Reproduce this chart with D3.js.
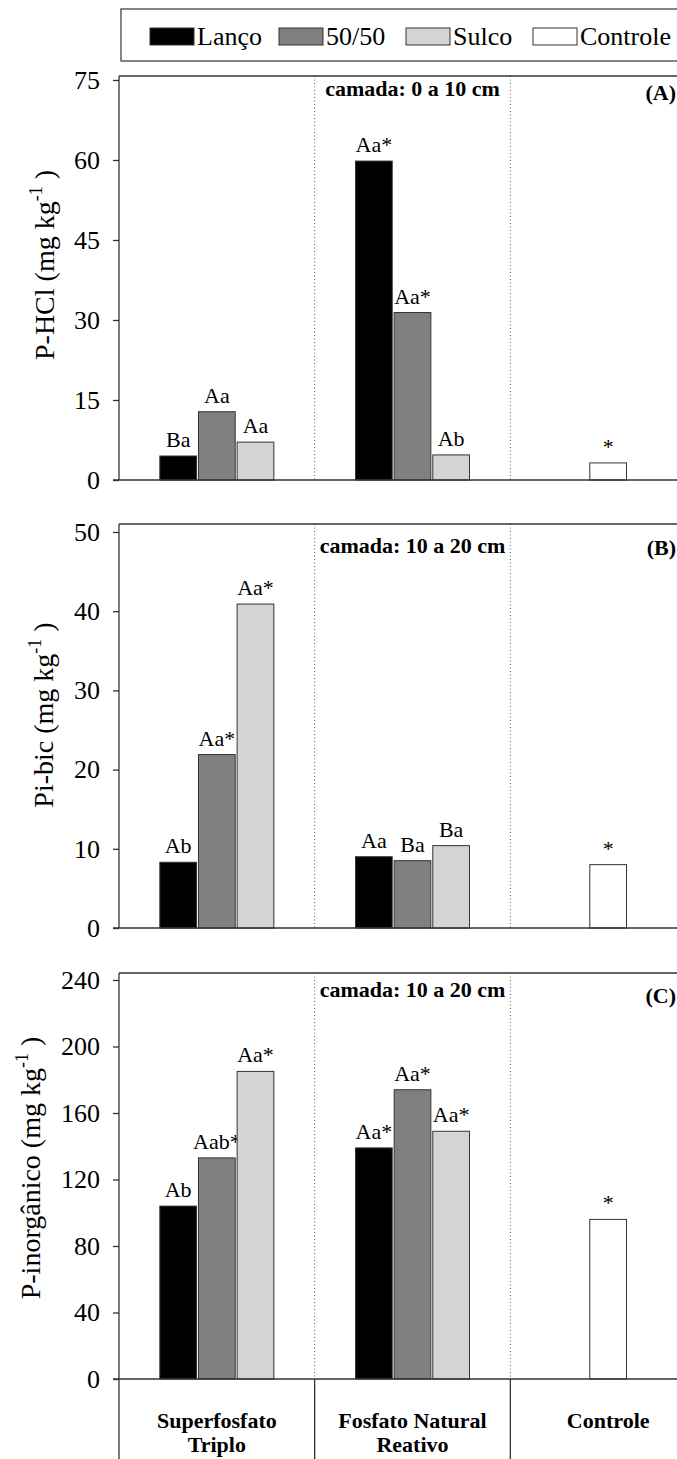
<!DOCTYPE html>
<html><head><meta charset="utf-8">
<script src="https://cdn.jsdelivr.net/npm/d3@7"></script>
<style>
html,body{margin:0;padding:0;background:#fff;}
svg{display:block;}
</style></head>
<body>
<svg id="chart" width="677" height="1459"></svg>
<script>
// ---------- data ----------
const categories = ["Superfosfato Triplo", "Fosfato Natural Reativo", "Controle"];
const categoryLine1 = ["Superfosfato", "Fosfato Natural", "Controle"];
const categoryLine2 = ["Triplo", "Reativo", ""];
const seriesNames = ["Lanço", "50/50", "Sulco"];
const legendNames = ["Lanço", "50/50", "Sulco", "Controle"];
const legendColors = ["#000000", "#808080", "#d4d4d4", "#ffffff"];

// Panel A: P-HCl, camada 0 a 10 cm
const pHCl_superfosfato = [4.5, 12.8, 7.1];
const pHCl_fosfato = [59.8, 31.4, 4.7];
const pHCl_controle = [3.2];
const pHCl_lab_superfosfato = ["Ba", "Aa", "Aa"];
const pHCl_lab_fosfato = ["Aa*", "Aa*", "Ab"];
const pHCl_lab_controle = ["*"];
const pHCl_ticks = [0, 15, 30, 45, 60, 75];

// Panel B: Pi-bic, camada 10 a 20 cm
const pibic_superfosfato = [8.3, 21.9, 40.9];
const pibic_fosfato = [9.0, 8.5, 10.4];
const pibic_controle = [8.0];
const pibic_lab_superfosfato = ["Ab", "Aa*", "Aa*"];
const pibic_lab_fosfato = ["Aa", "Ba", "Ba"];
const pibic_lab_controle = ["*"];
const pibic_ticks = [0, 10, 20, 30, 40, 50];

// Panel C: P-inorgânico, camada 10 a 20 cm
const pinorg_superfosfato = [104, 133, 185];
const pinorg_fosfato = [139, 174, 149];
const pinorg_controle = [96];
const pinorg_lab_superfosfato = ["Ab", "Aab*", "Aa*"];
const pinorg_lab_fosfato = ["Aa*", "Aa*", "Aa*"];
const pinorg_lab_controle = ["*"];
const pinorg_ticks = [0, 40, 80, 120, 160, 200, 240];

// ---------- layout ----------
const FONT = "Liberation Serif";
const svg = d3.select("#chart");
const left = 119, right = 706;
const x = d3.scaleBand().domain(categories).range([left, right]);
const xs = d3.scaleBand().domain(seriesNames).range([-57, 57]).paddingInner(0.05);
const color = d3.scaleOrdinal().domain(legendNames).range(legendColors);
const lineColor = "#333";

function txt(sel) { return sel.append("text").attr("font-family", FONT).attr("fill", "#000"); }

const panels = [
  {title: "P-HCl (mg kg", tag: "(A)", layer: "camada: 0 a 10 cm", ticks: pHCl_ticks,
   range: [480, 80], top: 76, titleY: 265, titleX: 54, layerY: 96, tagY: 100,
   vals: [pHCl_superfosfato, pHCl_fosfato], ctrl: pHCl_controle,
   labs: [pHCl_lab_superfosfato, pHCl_lab_fosfato], ctrlLab: pHCl_lab_controle},
  {title: "Pi-bic (mg kg", tag: "(B)", layer: "camada: 10 a 20 cm", ticks: pibic_ticks,
   range: [928, 532], top: 524, titleY: 715, titleX: 53, layerY: 553, tagY: 555,
   vals: [pibic_superfosfato, pibic_fosfato], ctrl: pibic_controle,
   labs: [pibic_lab_superfosfato, pibic_lab_fosfato], ctrlLab: pibic_lab_controle},
  {title: "P-inorgânico (mg kg", tag: "(C)", layer: "camada: 10 a 20 cm", ticks: pinorg_ticks,
   range: [1379, 980], top: 973, titleY: 1168, titleX: 40, layerY: 997, tagY: 1003,
   vals: [pinorg_superfosfato, pinorg_fosfato], ctrl: pinorg_controle,
   labs: [pinorg_lab_superfosfato, pinorg_lab_fosfato], ctrlLab: pinorg_lab_controle}
];

panels.forEach(p => {
  const y = d3.scaleLinear().domain([0, d3.max(p.ticks)]).range(p.range);
  const g = svg.append("g");

  // dotted separators
  [categories[1], categories[2]].forEach(c => {
    g.append("line").attr("x1", x(c)).attr("x2", x(c))
      .attr("y1", p.top).attr("y2", y(0))
      .attr("stroke", "#555").attr("stroke-width", 1)
      .attr("stroke-dasharray", "1,2.5");
  });

  // bars for treatment groups
  [0, 1].forEach(gi => {
    const cx = x(categories[gi]) + x.bandwidth() / 2;
    seriesNames.forEach((s, si) => {
      const v = p.vals[gi][si];
      g.append("rect")
        .attr("x", cx + xs(s)).attr("width", xs.bandwidth())
        .attr("y", y(v)).attr("height", y(0) - y(v))
        .attr("fill", color(s)).attr("stroke", lineColor).attr("stroke-width", 1);
      txt(g).attr("x", cx + xs(s) + xs.bandwidth() / 2).attr("y", y(v) - 9)
        .attr("text-anchor", "middle").attr("font-size", 22).text(p.labs[gi][si]);
    });
  });
  // controle bar
  const ccx = x(categories[2]) + x.bandwidth() / 2;
  p.ctrl.forEach((v, i) => {
    g.append("rect").attr("x", ccx - xs.bandwidth() / 2).attr("width", xs.bandwidth())
      .attr("y", y(v)).attr("height", y(0) - y(v))
      .attr("fill", color("Controle")).attr("stroke", lineColor).attr("stroke-width", 1);
    txt(g).attr("x", ccx).attr("y", y(v) - 9)
      .attr("text-anchor", "middle").attr("font-size", 22).text(p.ctrlLab[i]);
  });

  // frame top
  g.append("line").attr("x1", left).attr("x2", 677).attr("y1", p.top).attr("y2", p.top)
    .attr("stroke", lineColor).attr("stroke-width", 1.3);
  // x baseline
  g.append("line").attr("x1", left - 6).attr("x2", 677).attr("y1", y(0)).attr("y2", y(0))
    .attr("stroke", lineColor).attr("stroke-width", 1.3);

  // y axis
  const ax = g.append("g").attr("transform", `translate(${left},0)`)
    .call(d3.axisLeft(y).tickValues(p.ticks).tickSize(6).tickPadding(13).tickSizeOuter(0));
  ax.attr("font-family", FONT);
  ax.select(".domain").attr("d", `M0,${p.top}V${y(0)}`).attr("stroke", lineColor).attr("stroke-width", 1.3);
  ax.selectAll(".tick line").attr("stroke", lineColor).attr("stroke-width", 1.3);
  ax.selectAll(".tick text").attr("font-family", FONT).attr("font-size", 26).attr("fill", "#000");

  // y title
  const t = txt(g).attr("transform", `translate(${p.titleX},${p.titleY}) rotate(-90)`)
    .attr("text-anchor", "middle").attr("font-size", 28);
  t.append("tspan").text(p.title);
  t.append("tspan").attr("font-size", 18).attr("dy", -12).text("-1");
  t.append("tspan").attr("dy", 12).text(" )");

  // layer label and tag
  txt(g).attr("x", x(categories[1]) + x.bandwidth() / 2).attr("y", p.layerY)
    .attr("text-anchor", "middle").attr("font-weight", "bold").attr("font-size", 22).text(p.layer);
  txt(g).attr("x", 676).attr("y", p.tagY)
    .attr("text-anchor", "end").attr("font-weight", "bold").attr("font-size", 22).text(p.tag);
});

// category separators and labels at bottom
const baseY = 1379;
categories.forEach((c, i) => {
  svg.append("line").attr("x1", x(c)).attr("x2", x(c)).attr("y1", baseY).attr("y2", 1459)
    .attr("stroke", lineColor).attr("stroke-width", 1.3);
  const cx = x(c) + x.bandwidth() / 2;
  txt(svg).attr("x", cx).attr("y", 1428).attr("text-anchor", "middle")
    .attr("font-weight", "bold").attr("font-size", 22).text(categoryLine1[i]);
  txt(svg).attr("x", cx).attr("y", 1452).attr("text-anchor", "middle")
    .attr("font-weight", "bold").attr("font-size", 22).text(categoryLine2[i]);
});

// legend
svg.append("rect").attr("x", 121).attr("y", 9).attr("width", 600).attr("height", 52)
  .attr("fill", "none").attr("stroke", "#444").attr("stroke-width", 1.3);
const legX = [150, 279, 406, 533];
legendNames.forEach((n, i) => {
  svg.append("rect").attr("x", legX[i]).attr("y", 28).attr("width", 44).attr("height", 17)
    .attr("fill", color(n)).attr("stroke", "#333").attr("stroke-width", 1);
  txt(svg).attr("x", legX[i] + 47).attr("y", 45).attr("font-size", 26).text(n);
});
</script>
</body></html>
